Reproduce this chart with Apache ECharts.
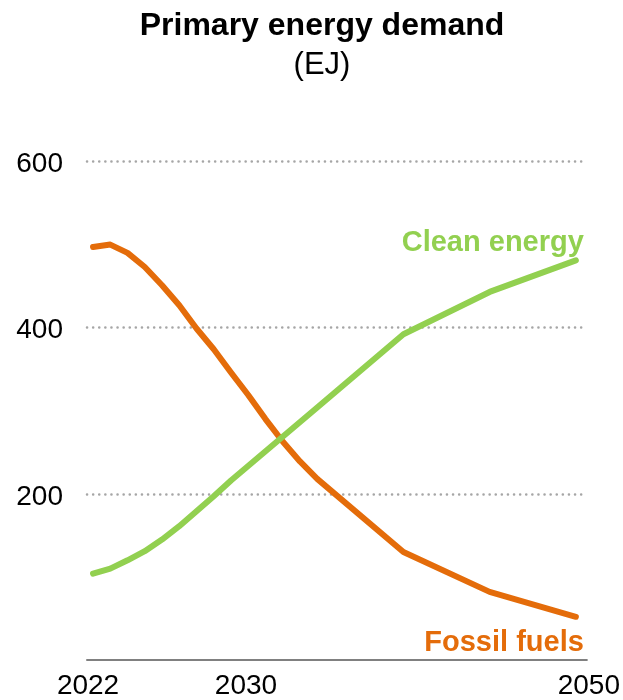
<!DOCTYPE html>
<html>
<head>
<meta charset="utf-8">
<script src="https://cdn.jsdelivr.net/npm/echarts@6/dist/echarts.min.js"></script>
<style>
html,body{margin:0;padding:0;background:#fff;}
#chart{width:623px;height:700px;}
</style>
</head>
<body>
<div id="chart"></div>
<script>
const cleanYears = [2022, 2023, 2024, 2025, 2026, 2027, 2028, 2029, 2030, 2035, 2040, 2045, 2050];
const cleanEnergy = [104, 110, 120, 131, 145, 161, 179, 197, 216, 304, 392, 443, 481];
const fossilYears = [2022, 2023, 2024, 2025, 2026, 2027, 2028, 2029, 2030, 2031, 2032, 2033, 2034, 2035, 2040, 2045, 2050];
const fossilFuels = [497, 500, 490, 473, 451, 427, 399, 374, 346, 319, 290, 263, 239, 218, 130, 82, 52];
const xTickLabels = [2022, 2030, 2050];
const seriesNames = ['Clean energy', 'Fossil fuels'];

const FONT = '"Liberation Sans", Arial, sans-serif';
const GREEN = '#92D050';
const ORANGE = '#E46C0A';

function pairs(xs, vals) {
  return vals.map((v, i) => [xs[i], v]);
}

const chart = echarts.init(document.getElementById('chart'), null, { renderer: 'canvas' });
chart.setOption({
  animation: false,
  backgroundColor: '#fff',
  title: [
    {
      text: 'Primary energy demand',
      left: 317,
      top: 5,
      textAlign: 'center',
      textStyle: { fontFamily: FONT, fontSize: 32, fontWeight: 'bold', color: '#000' }
    },
    {
      text: '(EJ)',
      left: 317,
      top: 45,
      textAlign: 'center',
      textStyle: { fontFamily: FONT, fontSize: 31, fontWeight: 'normal', color: '#000' }
    }
  ],
  grid: { left: 87, right: 35, top: 161.5, bottom: 36, containLabel: false },
  xAxis: {
    type: 'value',
    min: 2021.65,
    max: 2050.64,
    axisLine: { show: true, lineStyle: { color: '#808080', width: 2 } },
    axisTick: { show: false },
    splitLine: { show: false },
    axisLabel: {
      customValues: xTickLabels,
      margin: 12,
      formatter: function (v) {
        const y = Math.round(v);
        if (y === 2022) return '{a|' + y + '}';
        if (y === 2030) return '{b|' + y + '}';
        return '{c|' + y + '}';
      },
      color: '#000',
      fontFamily: FONT,
      fontSize: 28,
      rich: {
        a: { fontFamily: FONT, fontSize: 28, color: '#000', padding: [0, 10, 0, 0] },
        b: { fontFamily: FONT, fontSize: 28, color: '#000', padding: [0, 0, 0, 30] },
        c: { fontFamily: FONT, fontSize: 28, color: '#000', padding: [0, 0, 0, 26] }
      }
    }
  },
  yAxis: {
    type: 'value',
    min: 0,
    max: 600,
    interval: 200,
    axisLine: { show: false },
    axisTick: { show: false },
    axisLabel: {
      showMinLabel: false,
      margin: 24,
      formatter: '{v|{value}}',
      rich: {
        v: { fontFamily: FONT, fontSize: 28, color: '#000', padding: [6, 0, 0, 0] }
      },
      color: '#000',
      fontFamily: FONT,
      fontSize: 28
    },
    splitLine: {
      show: true,
      showMinLine: false,
      lineStyle: { color: '#a6a6a6', width: 2.5, type: [0.1, 6], cap: 'round' }
    }
  },
  series: [
    {
      name: seriesNames[0],
      type: 'line',
      data: pairs(cleanYears, cleanEnergy),
      showSymbol: false,
      symbol: 'none',
      lineStyle: { color: GREEN, width: 6, cap: 'round', join: 'round' },
      itemStyle: { color: GREEN },
      endLabel: {
        show: true,
        formatter: seriesNames[0],
        align: 'right',
        verticalAlign: 'middle',
        distance: 0,
        offset: [8, -17],
        color: GREEN,
        fontFamily: FONT,
        fontSize: 29,
        fontWeight: 'bold'
      },
      z: 3
    },
    {
      name: seriesNames[1],
      type: 'line',
      data: pairs(fossilYears, fossilFuels),
      showSymbol: false,
      symbol: 'none',
      lineStyle: { color: ORANGE, width: 6, cap: 'round', join: 'round' },
      itemStyle: { color: ORANGE },
      endLabel: {
        show: true,
        formatter: seriesNames[1],
        align: 'right',
        verticalAlign: 'middle',
        distance: 0,
        offset: [8, 26],
        color: ORANGE,
        fontFamily: FONT,
        fontSize: 29,
        fontWeight: 'bold'
      },
      z: 2
    }
  ]
});
</script>
</body>
</html>
